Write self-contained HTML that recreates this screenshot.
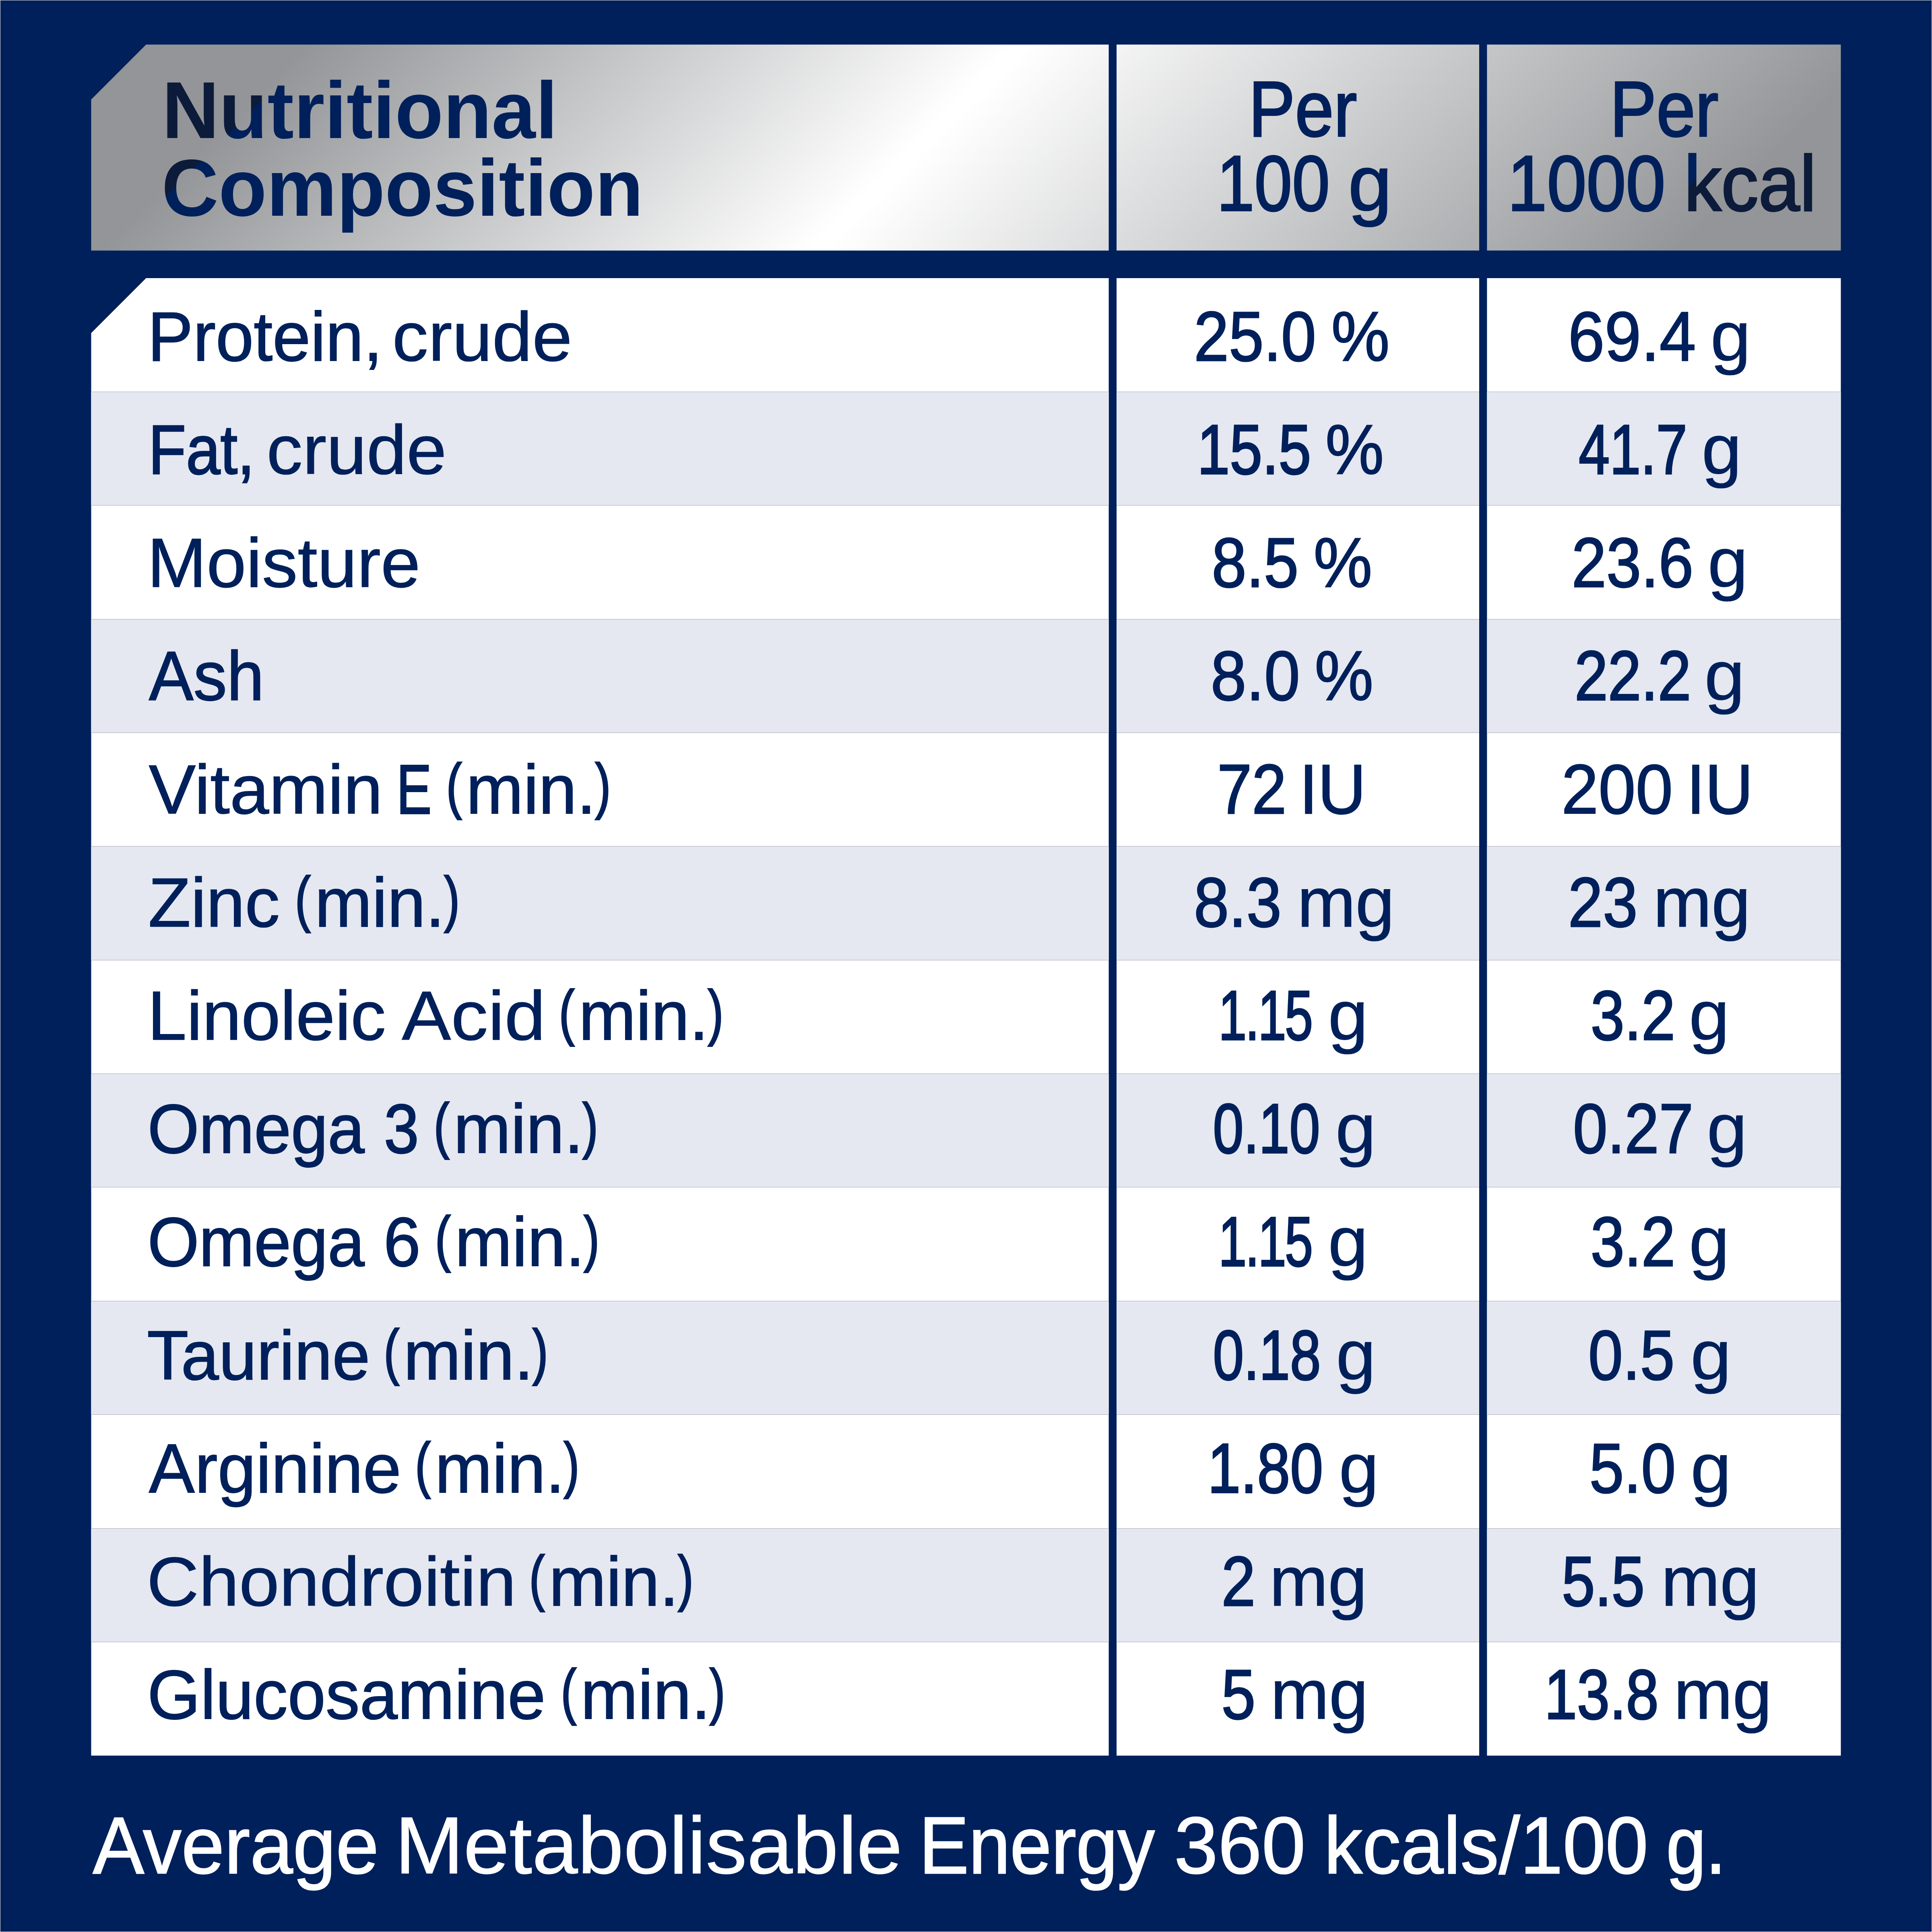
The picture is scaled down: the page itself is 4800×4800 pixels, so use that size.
<!DOCTYPE html>
<html lang="en"><head><meta charset="utf-8"><title>Nutritional Composition</title>
<style>html,body{margin:0;padding:0;background:#00205b}svg{display:block}text{font-family:"Liberation Sans",sans-serif;white-space:pre}</style></head>
<body>
<svg width="4800" height="4800" viewBox="0 0 4800 4800">
<defs>
<linearGradient id="hg" gradientUnits="userSpaceOnUse" x1="435" y1="435" x2="2398" y2="2398">
<stop offset="0" stop-color="#939598"/><stop offset="0.4483" stop-color="#ffffff"/><stop offset="0.4585" stop-color="#ffffff"/><stop offset="1" stop-color="#939598"/></linearGradient>
<linearGradient id="tg" gradientUnits="userSpaceOnUse" x1="450.5" y1="450.5" x2="2329" y2="2329">
<stop offset="0" stop-color="#0d1b3a"/><stop offset="0" stop-color="#00205b"/><stop offset="1" stop-color="#00205b"/><stop offset="1" stop-color="#0d1b3a"/></linearGradient>
</defs>
<rect width="4800" height="4800" fill="#00205b"/>
<g fill="url(#hg)">
<path d="M363.0 110.7H2754.6V622.4H226.5V247.2Z"/>
<rect x="2774.1" y="110.7" width="900.9" height="511.7"/>
<rect x="3694.4" y="110.7" width="879.1" height="511.7"/>
</g>
<g fill="#ffffff">
<path d="M363.0 691.0H2754.6V4361.8H226.5V827.5Z"/>
<rect x="2774.1" y="691.0" width="900.9" height="3670.8"/>
<rect x="3694.4" y="691.0" width="879.1" height="3670.8"/>
</g>
<g fill="#e5e8f1">
<rect x="226.5" y="973.4" width="2528.1" height="282.37"/><rect x="2774.1" y="973.4" width="900.9" height="282.37"/><rect x="3694.4" y="973.4" width="879.1" height="282.37"/>
<rect x="226.5" y="1538.1" width="2528.1" height="282.37"/><rect x="2774.1" y="1538.1" width="900.9" height="282.37"/><rect x="3694.4" y="1538.1" width="879.1" height="282.37"/>
<rect x="226.5" y="2102.8" width="2528.1" height="282.37"/><rect x="2774.1" y="2102.8" width="900.9" height="282.37"/><rect x="3694.4" y="2102.8" width="879.1" height="282.37"/>
<rect x="226.5" y="2667.6" width="2528.1" height="282.37"/><rect x="2774.1" y="2667.6" width="900.9" height="282.37"/><rect x="3694.4" y="2667.6" width="879.1" height="282.37"/>
<rect x="226.5" y="3232.3" width="2528.1" height="282.37"/><rect x="2774.1" y="3232.3" width="900.9" height="282.37"/><rect x="3694.4" y="3232.3" width="879.1" height="282.37"/>
<rect x="226.5" y="3797.1" width="2528.1" height="282.37"/><rect x="2774.1" y="3797.1" width="900.9" height="282.37"/><rect x="3694.4" y="3797.1" width="879.1" height="282.37"/>
</g>
<g fill="#a4a9b8">
<rect x="226.5" y="973" width="2528.1" height="1"/><rect x="2774.1" y="973" width="900.9" height="1"/><rect x="3694.4" y="973" width="879.1" height="1"/>
<rect x="226.5" y="1255" width="2528.1" height="1"/><rect x="2774.1" y="1255" width="900.9" height="1"/><rect x="3694.4" y="1255" width="879.1" height="1"/>
<rect x="226.5" y="1538" width="2528.1" height="1"/><rect x="2774.1" y="1538" width="900.9" height="1"/><rect x="3694.4" y="1538" width="879.1" height="1"/>
<rect x="226.5" y="1820" width="2528.1" height="1"/><rect x="2774.1" y="1820" width="900.9" height="1"/><rect x="3694.4" y="1820" width="879.1" height="1"/>
<rect x="226.5" y="2102" width="2528.1" height="1"/><rect x="2774.1" y="2102" width="900.9" height="1"/><rect x="3694.4" y="2102" width="879.1" height="1"/>
<rect x="226.5" y="2385" width="2528.1" height="1"/><rect x="2774.1" y="2385" width="900.9" height="1"/><rect x="3694.4" y="2385" width="879.1" height="1"/>
<rect x="226.5" y="2667" width="2528.1" height="1"/><rect x="2774.1" y="2667" width="900.9" height="1"/><rect x="3694.4" y="2667" width="879.1" height="1"/>
<rect x="226.5" y="2949" width="2528.1" height="1"/><rect x="2774.1" y="2949" width="900.9" height="1"/><rect x="3694.4" y="2949" width="879.1" height="1"/>
<rect x="226.5" y="3232" width="2528.1" height="1"/><rect x="2774.1" y="3232" width="900.9" height="1"/><rect x="3694.4" y="3232" width="879.1" height="1"/>
<rect x="226.5" y="3514" width="2528.1" height="1"/><rect x="2774.1" y="3514" width="900.9" height="1"/><rect x="3694.4" y="3514" width="879.1" height="1"/>
<rect x="226.5" y="3797" width="2528.1" height="1"/><rect x="2774.1" y="3797" width="900.9" height="1"/><rect x="3694.4" y="3797" width="879.1" height="1"/>
<rect x="226.5" y="4079" width="2528.1" height="1"/><rect x="2774.1" y="4079" width="900.9" height="1"/><rect x="3694.4" y="4079" width="879.1" height="1"/>
</g>
<text fill="url(#tg)" stroke="url(#tg)" stroke-width="0"><tspan x="402.4" y="343.3" font-size="200" font-weight="700" textLength="982.9" lengthAdjust="spacingAndGlyphs">Nutritional</tspan> <tspan x="401.6" y="536.1" font-size="200" font-weight="700" textLength="1196.5" lengthAdjust="spacingAndGlyphs">Composition</tspan></text>
<text fill="url(#tg)" stroke="url(#tg)" stroke-width="0"><tspan x="3102.3" y="337.5" font-size="195" stroke-width="4.0" textLength="268.9" lengthAdjust="spacingAndGlyphs">Per</tspan> <tspan x="3023.0" y="522.7" font-size="195" stroke-width="4.0" textLength="280.8" lengthAdjust="spacingAndGlyphs">100</tspan> <tspan x="3349.8" y="522.7" font-size="195" stroke-width="3.2" textLength="108.1" lengthAdjust="spacingAndGlyphs">g</tspan></text>
<text fill="url(#tg)" stroke="url(#tg)" stroke-width="0"><tspan x="3999.8" y="337.5" font-size="195" stroke-width="4.0" textLength="269.7" lengthAdjust="spacingAndGlyphs">Per</tspan> <tspan x="3745.3" y="522.7" font-size="195" stroke-width="4.0" textLength="392.4" lengthAdjust="spacingAndGlyphs">1000</tspan> <tspan x="4183.9" y="522.7" font-size="195" stroke-width="4.0" textLength="328.8" lengthAdjust="spacingAndGlyphs">kcal</tspan></text>
<text fill="#00205b" stroke="#00205b" stroke-width="0"><tspan x="366.8" y="895.9" font-size="173" stroke-width="2.0" textLength="583.5" lengthAdjust="spacingAndGlyphs">Protein,</tspan> <tspan x="974.5" y="895.9" font-size="173" stroke-width="1.2" textLength="447.2" lengthAdjust="spacingAndGlyphs">crude</tspan></text>
<text fill="#00205b" stroke="#00205b" stroke-width="0"><tspan x="2966.3" y="895.9" font-size="175" stroke-width="3.1" textLength="303.5" lengthAdjust="spacingAndGlyphs">25.0</tspan> <tspan x="3307.6" y="895.9" font-size="175" stroke-width="2.5" textLength="144.9" lengthAdjust="spacingAndGlyphs">%</tspan></text>
<text fill="#00205b" stroke="#00205b" stroke-width="0"><tspan x="3895.7" y="895.9" font-size="175" stroke-width="2.5" textLength="318.0" lengthAdjust="spacingAndGlyphs">69.4</tspan> <tspan x="4249.5" y="895.9" font-size="175" stroke-width="1.0" textLength="100.5" lengthAdjust="spacingAndGlyphs">g</tspan></text>
<text fill="#00205b" stroke="#00205b" stroke-width="0"><tspan x="368.8" y="1177.1" font-size="173" stroke-width="3.3" textLength="263.7" lengthAdjust="spacingAndGlyphs">Fat,</tspan> <tspan x="662.3" y="1177.1" font-size="173" stroke-width="1.2" textLength="447.2" lengthAdjust="spacingAndGlyphs">crude</tspan></text>
<text fill="#00205b" stroke="#00205b" stroke-width="0"><tspan x="2974.6" y="1177.1" font-size="175" stroke-width="4.0" textLength="282.6" lengthAdjust="spacingAndGlyphs">15.5</tspan> <tspan x="3293.0" y="1177.1" font-size="175" stroke-width="2.5" textLength="145.1" lengthAdjust="spacingAndGlyphs">%</tspan></text>
<text fill="#00205b" stroke="#00205b" stroke-width="0"><tspan x="3922.2" y="1177.1" font-size="175" stroke-width="4.0" textLength="269.5" lengthAdjust="spacingAndGlyphs">41.7</tspan> <tspan x="4227.7" y="1177.1" font-size="175" stroke-width="1.2" textLength="99.3" lengthAdjust="spacingAndGlyphs">g</tspan></text>
<text fill="#00205b" stroke="#00205b" stroke-width="0"><tspan x="365.8" y="1458.3" font-size="173" stroke-width="1.3" textLength="678.5" lengthAdjust="spacingAndGlyphs">Moisture</tspan></text>
<text fill="#00205b" stroke="#00205b" stroke-width="0"><tspan x="3010.6" y="1458.3" font-size="175" stroke-width="3.2" textLength="215.6" lengthAdjust="spacingAndGlyphs">8.5</tspan> <tspan x="3263.4" y="1458.3" font-size="175" stroke-width="2.4" textLength="145.9" lengthAdjust="spacingAndGlyphs">%</tspan></text>
<text fill="#00205b" stroke="#00205b" stroke-width="0"><tspan x="3904.4" y="1458.3" font-size="175" stroke-width="3.1" textLength="302.8" lengthAdjust="spacingAndGlyphs">23.6</tspan> <tspan x="4242.4" y="1458.3" font-size="175" stroke-width="1.0" textLength="100.5" lengthAdjust="spacingAndGlyphs">g</tspan></text>
<text fill="#00205b" stroke="#00205b" stroke-width="0"><tspan x="370.1" y="1739.4" font-size="173" stroke-width="2.3" textLength="285.9" lengthAdjust="spacingAndGlyphs">Ash</tspan></text>
<text fill="#00205b" stroke="#00205b" stroke-width="0"><tspan x="3007.8" y="1739.4" font-size="175" stroke-width="2.8" textLength="222.0" lengthAdjust="spacingAndGlyphs">8.0</tspan> <tspan x="3266.2" y="1739.4" font-size="175" stroke-width="2.4" textLength="145.9" lengthAdjust="spacingAndGlyphs">%</tspan></text>
<text fill="#00205b" stroke="#00205b" stroke-width="0"><tspan x="3912.1" y="1739.4" font-size="175" stroke-width="3.7" textLength="289.4" lengthAdjust="spacingAndGlyphs">22.2</tspan> <tspan x="4234.5" y="1739.4" font-size="175" stroke-width="1.0" textLength="100.5" lengthAdjust="spacingAndGlyphs">g</tspan></text>
<text fill="#00205b" stroke="#00205b" stroke-width="0"><tspan x="369.6" y="2020.6" font-size="173" stroke-width="1.5" textLength="581.2" lengthAdjust="spacingAndGlyphs">Vitamin</tspan> <tspan x="985.5" y="2020.6" font-size="173" stroke-width="4.0" textLength="86.5" lengthAdjust="spacingAndGlyphs">E</tspan> <tspan x="1109.1" y="2004.1" font-size="152" stroke-width="4.0" textLength="38.0" lengthAdjust="spacingAndGlyphs">(</tspan><tspan x="1157.9" y="2020.6" font-size="173" stroke-width="1.9" textLength="322.6" lengthAdjust="spacingAndGlyphs">min.</tspan><tspan x="1479.0" y="2004.1" font-size="152" stroke-width="4.0" textLength="38.0" lengthAdjust="spacingAndGlyphs">)</tspan></text>
<text fill="#00205b" stroke="#00205b" stroke-width="0"><tspan x="3024.3" y="2020.6" font-size="175" stroke-width="3.2" textLength="171.8" lengthAdjust="spacingAndGlyphs">72</tspan> <tspan x="3227.9" y="2020.6" font-size="175" stroke-width="2.3" textLength="165.7" lengthAdjust="spacingAndGlyphs">IU</tspan></text>
<text fill="#00205b" stroke="#00205b" stroke-width="0"><tspan x="3878.9" y="2020.6" font-size="175" stroke-width="2.2" textLength="277.4" lengthAdjust="spacingAndGlyphs">200</tspan> <tspan x="4189.9" y="2020.6" font-size="175" stroke-width="2.3" textLength="165.7" lengthAdjust="spacingAndGlyphs">IU</tspan></text>
<text fill="#00205b" stroke="#00205b" stroke-width="0"><tspan x="368.2" y="2301.8" font-size="173" stroke-width="1.7" textLength="326.9" lengthAdjust="spacingAndGlyphs">Zinc</tspan> <tspan x="733.3" y="2285.3" font-size="152" stroke-width="4.0" textLength="38.0" lengthAdjust="spacingAndGlyphs">(</tspan><tspan x="782.1" y="2301.8" font-size="173" stroke-width="1.9" textLength="322.6" lengthAdjust="spacingAndGlyphs">min.</tspan><tspan x="1103.8" y="2285.3" font-size="152" stroke-width="4.0" textLength="38.0" lengthAdjust="spacingAndGlyphs">)</tspan></text>
<text fill="#00205b" stroke="#00205b" stroke-width="0"><tspan x="2965.9" y="2301.8" font-size="175" stroke-width="3.0" textLength="218.0" lengthAdjust="spacingAndGlyphs">8.3</tspan> <tspan x="3222.9" y="2301.8" font-size="175" stroke-width="1.6" textLength="241.7" lengthAdjust="spacingAndGlyphs">mg</tspan></text>
<text fill="#00205b" stroke="#00205b" stroke-width="0"><tspan x="3895.8" y="2301.8" font-size="175" stroke-width="3.1" textLength="172.9" lengthAdjust="spacingAndGlyphs">23</tspan> <tspan x="4107.4" y="2301.8" font-size="175" stroke-width="1.6" textLength="241.7" lengthAdjust="spacingAndGlyphs">mg</tspan></text>
<text fill="#00205b" stroke="#00205b" stroke-width="0"><tspan x="366.6" y="2583.0" font-size="173" stroke-width="1.5" textLength="591.9" lengthAdjust="spacingAndGlyphs">Linoleic</tspan> <tspan x="997.9" y="2583.0" font-size="173" stroke-width="1.0" textLength="357.6" lengthAdjust="spacingAndGlyphs">Acid</tspan> <tspan x="1388.9" y="2566.5" font-size="152" stroke-width="4.0" textLength="38.0" lengthAdjust="spacingAndGlyphs">(</tspan><tspan x="1437.7" y="2583.0" font-size="173" stroke-width="1.9" textLength="322.6" lengthAdjust="spacingAndGlyphs">min.</tspan><tspan x="1758.9" y="2566.5" font-size="152" stroke-width="4.0" textLength="38.0" lengthAdjust="spacingAndGlyphs">)</tspan></text>
<text fill="#00205b" stroke="#00205b" stroke-width="0"><tspan x="3027.2" y="2583.0" font-size="175" stroke-width="4.0" textLength="231.6" lengthAdjust="spacingAndGlyphs" style="letter-spacing:-4.72px">1.15</tspan> <tspan x="3299.5" y="2583.0" font-size="175" stroke-width="1.2" textLength="99.3" lengthAdjust="spacingAndGlyphs">g</tspan></text>
<text fill="#00205b" stroke="#00205b" stroke-width="0"><tspan x="3951.7" y="2583.0" font-size="175" stroke-width="3.5" textLength="210.4" lengthAdjust="spacingAndGlyphs">3.2</tspan> <tspan x="4195.9" y="2583.0" font-size="175" stroke-width="1.0" textLength="101.0" lengthAdjust="spacingAndGlyphs">g</tspan></text>
<text fill="#00205b" stroke="#00205b" stroke-width="0"><tspan x="366.8" y="2864.2" font-size="173" stroke-width="2.4" textLength="538.9" lengthAdjust="spacingAndGlyphs">Omega</tspan> <tspan x="953.9" y="2864.2" font-size="173" stroke-width="3.1" textLength="86.7" lengthAdjust="spacingAndGlyphs">3</tspan> <tspan x="1078.0" y="2847.7" font-size="152" stroke-width="4.0" textLength="38.0" lengthAdjust="spacingAndGlyphs">(</tspan><tspan x="1126.8" y="2864.2" font-size="173" stroke-width="1.9" textLength="322.6" lengthAdjust="spacingAndGlyphs">min.</tspan><tspan x="1447.5" y="2847.7" font-size="152" stroke-width="4.0" textLength="38.0" lengthAdjust="spacingAndGlyphs">)</tspan></text>
<text fill="#00205b" stroke="#00205b" stroke-width="0"><tspan x="3013.4" y="2864.2" font-size="175" stroke-width="4.0" textLength="266.2" lengthAdjust="spacingAndGlyphs">0.10</tspan> <tspan x="3317.7" y="2864.2" font-size="175" stroke-width="1.0" textLength="101.0" lengthAdjust="spacingAndGlyphs">g</tspan></text>
<text fill="#00205b" stroke="#00205b" stroke-width="0"><tspan x="3908.3" y="2864.2" font-size="175" stroke-width="3.3" textLength="298.7" lengthAdjust="spacingAndGlyphs">0.27</tspan> <tspan x="4240.4" y="2864.2" font-size="175" stroke-width="1.0" textLength="100.5" lengthAdjust="spacingAndGlyphs">g</tspan></text>
<text fill="#00205b" stroke="#00205b" stroke-width="0"><tspan x="366.8" y="3145.3" font-size="173" stroke-width="2.4" textLength="538.9" lengthAdjust="spacingAndGlyphs">Omega</tspan> <tspan x="953.0" y="3145.3" font-size="173" stroke-width="2.3" textLength="91.9" lengthAdjust="spacingAndGlyphs">6</tspan> <tspan x="1081.3" y="3128.8" font-size="152" stroke-width="4.0" textLength="38.0" lengthAdjust="spacingAndGlyphs">(</tspan><tspan x="1130.1" y="3145.3" font-size="173" stroke-width="1.9" textLength="322.6" lengthAdjust="spacingAndGlyphs">min.</tspan><tspan x="1450.8" y="3128.8" font-size="152" stroke-width="4.0" textLength="38.0" lengthAdjust="spacingAndGlyphs">)</tspan></text>
<text fill="#00205b" stroke="#00205b" stroke-width="0"><tspan x="3027.2" y="3145.3" font-size="175" stroke-width="4.0" textLength="231.6" lengthAdjust="spacingAndGlyphs" style="letter-spacing:-4.72px">1.15</tspan> <tspan x="3299.5" y="3145.3" font-size="175" stroke-width="1.2" textLength="99.3" lengthAdjust="spacingAndGlyphs">g</tspan></text>
<text fill="#00205b" stroke="#00205b" stroke-width="0"><tspan x="3951.7" y="3145.3" font-size="175" stroke-width="3.5" textLength="210.4" lengthAdjust="spacingAndGlyphs">3.2</tspan> <tspan x="4195.9" y="3145.3" font-size="175" stroke-width="1.0" textLength="101.0" lengthAdjust="spacingAndGlyphs">g</tspan></text>
<text fill="#00205b" stroke="#00205b" stroke-width="0"><tspan x="365.3" y="3426.5" font-size="173" stroke-width="2.0" textLength="554.1" lengthAdjust="spacingAndGlyphs">Taurine</tspan> <tspan x="953.8" y="3410.0" font-size="152" stroke-width="4.0" textLength="38.0" lengthAdjust="spacingAndGlyphs">(</tspan><tspan x="1002.6" y="3426.5" font-size="173" stroke-width="1.9" textLength="322.6" lengthAdjust="spacingAndGlyphs">min.</tspan><tspan x="1323.3" y="3410.0" font-size="152" stroke-width="4.0" textLength="38.0" lengthAdjust="spacingAndGlyphs">)</tspan></text>
<text fill="#00205b" stroke="#00205b" stroke-width="0"><tspan x="3013.4" y="3426.5" font-size="175" stroke-width="4.0" textLength="268.1" lengthAdjust="spacingAndGlyphs">0.18</tspan> <tspan x="3319.4" y="3426.5" font-size="175" stroke-width="1.3" textLength="98.4" lengthAdjust="spacingAndGlyphs">g</tspan></text>
<text fill="#00205b" stroke="#00205b" stroke-width="0"><tspan x="3946.0" y="3426.5" font-size="175" stroke-width="3.2" textLength="214.6" lengthAdjust="spacingAndGlyphs">0.5</tspan> <tspan x="4200.0" y="3426.5" font-size="175" stroke-width="1.0" textLength="101.5" lengthAdjust="spacingAndGlyphs">g</tspan></text>
<text fill="#00205b" stroke="#00205b" stroke-width="0"><tspan x="369.8" y="3707.7" font-size="173" stroke-width="1.8" textLength="627.1" lengthAdjust="spacingAndGlyphs">Arginine</tspan> <tspan x="1031.6" y="3691.2" font-size="152" stroke-width="4.0" textLength="38.0" lengthAdjust="spacingAndGlyphs">(</tspan><tspan x="1080.4" y="3707.7" font-size="173" stroke-width="1.9" textLength="322.6" lengthAdjust="spacingAndGlyphs">min.</tspan><tspan x="1401.1" y="3691.2" font-size="152" stroke-width="4.0" textLength="38.0" lengthAdjust="spacingAndGlyphs">)</tspan></text>
<text fill="#00205b" stroke="#00205b" stroke-width="0"><tspan x="3000.2" y="3707.7" font-size="175" stroke-width="3.8" textLength="287.0" lengthAdjust="spacingAndGlyphs">1.80</tspan> <tspan x="3326.5" y="3707.7" font-size="175" stroke-width="1.2" textLength="99.2" lengthAdjust="spacingAndGlyphs">g</tspan></text>
<text fill="#00205b" stroke="#00205b" stroke-width="0"><tspan x="3948.7" y="3707.7" font-size="175" stroke-width="3.2" textLength="214.6" lengthAdjust="spacingAndGlyphs">5.0</tspan> <tspan x="4200.0" y="3707.7" font-size="175" stroke-width="1.0" textLength="101.5" lengthAdjust="spacingAndGlyphs">g</tspan></text>
<text fill="#00205b" stroke="#00205b" stroke-width="0"><tspan x="364.4" y="3988.9" font-size="173" stroke-width="1.1" textLength="918.3" lengthAdjust="spacingAndGlyphs">Chondroitin</tspan> <tspan x="1314.9" y="3972.4" font-size="152" stroke-width="4.0" textLength="38.0" lengthAdjust="spacingAndGlyphs">(</tspan><tspan x="1363.7" y="3988.9" font-size="173" stroke-width="1.9" textLength="322.6" lengthAdjust="spacingAndGlyphs">min.</tspan><tspan x="1684.4" y="3972.4" font-size="152" stroke-width="4.0" textLength="38.0" lengthAdjust="spacingAndGlyphs">)</tspan></text>
<text fill="#00205b" stroke="#00205b" stroke-width="0"><tspan x="3034.4" y="3988.9" font-size="175" stroke-width="3.4" textLength="84.7" lengthAdjust="spacingAndGlyphs">2</tspan> <tspan x="3153.9" y="3988.9" font-size="175" stroke-width="1.5" textLength="242.7" lengthAdjust="spacingAndGlyphs">mg</tspan></text>
<text fill="#00205b" stroke="#00205b" stroke-width="0"><tspan x="3880.2" y="3988.9" font-size="175" stroke-width="3.8" textLength="205.8" lengthAdjust="spacingAndGlyphs">5.5</tspan> <tspan x="4126.9" y="3988.9" font-size="175" stroke-width="1.4" textLength="244.0" lengthAdjust="spacingAndGlyphs">mg</tspan></text>
<text fill="#00205b" stroke="#00205b" stroke-width="0"><tspan x="366.1" y="4270.1" font-size="173" stroke-width="2.0" textLength="989.4" lengthAdjust="spacingAndGlyphs">Glucosamine</tspan> <tspan x="1393.8" y="4253.6" font-size="152" stroke-width="4.0" textLength="38.0" lengthAdjust="spacingAndGlyphs">(</tspan><tspan x="1442.6" y="4270.1" font-size="173" stroke-width="1.9" textLength="322.6" lengthAdjust="spacingAndGlyphs">min.</tspan><tspan x="1763.3" y="4253.6" font-size="152" stroke-width="4.0" textLength="38.0" lengthAdjust="spacingAndGlyphs">)</tspan></text>
<text fill="#00205b" stroke="#00205b" stroke-width="0"><tspan x="3034.5" y="4270.1" font-size="175" stroke-width="3.4" textLength="84.8" lengthAdjust="spacingAndGlyphs">5</tspan> <tspan x="3156.6" y="4270.1" font-size="175" stroke-width="1.5" textLength="242.7" lengthAdjust="spacingAndGlyphs">mg</tspan></text>
<text fill="#00205b" stroke="#00205b" stroke-width="0"><tspan x="3837.0" y="4270.1" font-size="175" stroke-width="4.0" textLength="283.7" lengthAdjust="spacingAndGlyphs">13.8</tspan> <tspan x="4158.2" y="4270.1" font-size="175" stroke-width="1.4" textLength="244.0" lengthAdjust="spacingAndGlyphs">mg</tspan></text>
<text fill="#ffffff" stroke="#ffffff" stroke-width="0"><tspan x="230.6" y="4653.5" font-size="200" stroke-width="2.4" textLength="710.4" lengthAdjust="spacingAndGlyphs">Average</tspan> <tspan x="981.4" y="4653.5" font-size="200" stroke-width="1.3" textLength="1260.5" lengthAdjust="spacingAndGlyphs">Metabolisable</tspan> <tspan x="2283.8" y="4653.5" font-size="200" stroke-width="3.0" textLength="584.9" lengthAdjust="spacingAndGlyphs">Energy</tspan> <tspan x="2917.1" y="4653.5" font-size="200" stroke-width="2.1" textLength="326.4" lengthAdjust="spacingAndGlyphs">360</tspan> <tspan x="3289.6" y="4653.5" font-size="200" stroke-width="2.5" textLength="805.1" lengthAdjust="spacingAndGlyphs">kcals/100</tspan> <tspan x="4140.1" y="4653.5" font-size="200" stroke-width="3.7" textLength="147.3" lengthAdjust="spacingAndGlyphs">g.</tspan></text>
<path d="M1.5 1.5H4798.5V4798.5H1.5Z" fill="none" stroke="#000f3c" stroke-width="1"/>
<path d="M0.5 0.5H4799.5V4799.5H0.5Z" fill="none" stroke="#f4ffff" stroke-width="1"/>
</svg>
</body></html>
